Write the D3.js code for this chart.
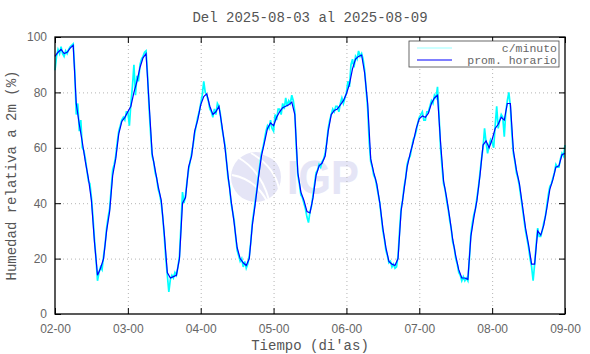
<!DOCTYPE html>
<html>
<head>
<meta charset="utf-8">
<script src="https://cdn.jsdelivr.net/npm/d3@7"></script>
<style>
    body { margin: 0; background: #fff; }
    svg { display: block; font-family: "Liberation Mono", "DejaVu Sans Mono", monospace; }
    .grid line { stroke: #b4b4b4; stroke-dasharray: 1,3; }
    .grid path { display: none; }
    .axis path { display: none; }
    .axis line { stroke: #000; }
    .axis text { fill: #666; font-size: 12px; }
</style>
</head>
<body>
<div id="chart"></div>
<script>
const titulo = "Del 2025-08-03 al 2025-08-09";
const etiquetaX = "Tiempo (di'as)";
const etiquetaY = "Humedad relativa a 2m (%)";
const seriesNombres = ["c/minuto", "prom. horario"];

// horas desde 02-00
const diaHoras = [0, 24, 48, 72, 96, 120, 144, 168];
const diaEtiquetas = ["02-00", "03-00", "04-00", "05-00", "06-00", "07-00", "08-00", "09-00"];
const humTicks = [0, 20, 40, 60, 80, 100];

// promedio horario (una por hora, 0..168)
const promHorario = [
    93, 94.5, 95.5, 94, 94.5, 96, 97, 76, 68.5, 62, 55, 49, 41, 26, 14, 16.5, 20, 30, 37, 50, 56, 65, 69.5, 71,
    73, 75, 80, 84, 89, 92.5, 94, 76, 58, 52, 46, 41, 29, 15, 13, 13.5, 14, 20, 40, 42, 53, 57, 66, 70,
    75.5, 78.5, 79.5, 75, 72, 73, 75, 68, 60, 50, 41, 33, 24, 20, 18.5, 17.5, 20, 32, 40, 49, 57, 62, 67, 69,
    68, 71, 73, 74.5, 75, 75.5, 76.5, 72, 51, 44, 41, 37, 36.5, 42, 50, 53.5, 54.5, 57, 66, 72, 73.5, 74, 75.5, 77,
    79.5, 83, 88.5, 92, 93, 93.5, 87, 76, 56, 51, 47, 40, 31, 24, 19, 18, 17.5, 20, 37, 45, 53, 58, 62, 67,
    70.5, 71.5, 71, 72.5, 76, 78, 79, 62, 48, 42, 35, 27, 21, 16, 13, 13, 12.5, 28, 35, 41, 50, 61, 62.5, 60,
    63, 67, 68.5, 71, 70, 76, 76, 59, 52, 47, 39, 31, 25, 18, 18, 30, 28.5, 32, 38, 45, 48.5, 53, 53.5, 57.5,
    58
];

// muestras c/minuto (cada media hora)
const minD02 = [88, 93, 95.5, 94, 96.5, 94, 93, 95, 94, 95.5, 96.5, 97, 97.5, 88, 72, 76, 66, 70, 60, 59, 56, 52, 48, 47,
    42, 35, 27, 20, 12, 15, 17, 16, 21, 25, 31, 35, 38, 45, 52, 54, 57, 62, 66, 68, 70, 71, 70, 73];
const minD03 = [73, 68, 76, 82, 90, 79, 86, 84, 90, 92, 93, 94.5, 95, 86, 74, 65, 57, 55, 51, 49, 45, 43, 40, 35,
    28, 20, 14, 8, 12.5, 14, 13, 15, 14, 17, 21, 32, 44, 40, 43, 48, 52, 55, 58, 61, 65, 68, 71, 73];
const minD04 = [76, 79, 84, 80, 79, 77, 74, 73, 71, 74, 72, 76, 75, 72, 67, 64, 61, 55, 49, 46, 40, 37, 34, 28,
    23, 21, 19, 20, 17, 19, 16.5, 18, 21, 26, 33, 37, 41, 45, 50, 54, 58, 60, 63, 66, 68, 67, 70, 67];
const minD05 = [66, 72, 70, 74, 74, 72, 76, 74, 78, 75, 77, 76, 79, 77, 73, 60, 50, 47, 43, 42, 40, 38, 35, 33,
    37, 39, 43, 47, 51, 52, 54, 53, 55, 56, 58, 62, 67, 70, 72, 74, 73, 75, 75, 73, 76, 78, 76, 78];
const minD06 = [80, 84, 82, 90, 92, 89, 93, 92, 95, 93, 94, 92, 88, 81, 74, 62, 55, 53, 50, 49, 46, 43, 40, 35,
    30, 27, 23, 21, 18.5, 19, 17, 18, 16.5, 17, 21, 30, 38, 41, 46, 49, 54, 56, 57, 60, 63, 64, 66, 69];
const minD07 = [71, 72, 73, 70, 70, 73, 73, 75, 77, 76, 79, 78, 82, 72, 60, 53, 47, 45, 41, 38, 34, 31, 26, 24,
    20, 18, 15, 14, 12, 13.5, 12, 13, 12, 20, 29, 33, 36, 38, 42, 46, 51, 56, 60, 67, 62, 58, 61, 63];
const minD08 = [62, 60, 68, 75, 67, 70, 72, 71, 64, 73, 77, 80, 75, 65, 58, 55, 51, 49, 46, 42, 38, 34, 30, 27,
    24, 20, 17, 12, 18, 25, 31, 28, 28, 30, 33, 35, 39, 43, 46, 47, 49, 51, 54, 53, 53, 56, 58, 57, 61];

const W = 590, H = 354;
const margin = { top: 37, right: 25, bottom: 40, left: 55 };
const width = W - margin.left - margin.right;
const height = H - margin.top - margin.bottom;

const svg = d3.select("#chart").append("svg")
    .attr("width", W)
    .attr("height", H);

const x = d3.scaleLinear().domain([0, 168]).range([0, width]);
const y = d3.scaleLinear().domain([0, 100]).range([height, 0]);

const g = svg.append("g")
    .attr("transform", "translate(" + margin.left + "," + margin.top + ")");

// marca de agua IGP
const wm = g.append("g").attr("opacity", 0.9);
wm.append("circle")
    .attr("cx", 201).attr("cy", 140).attr("r", 25)
    .attr("fill", "#e3e3f6");
wm.append("path")
    .attr("d", "M184,121 Q206,134 214,163 M196,116 Q220,130 224,152 M177,138 Q200,142 212,164 M205,116 Q222,120 226,132")
    .attr("fill", "none").attr("stroke", "#fff").attr("stroke-width", 2);
wm.append("text")
    .attr("x", 232).attr("y", 157)
    .attr("font-family", "Liberation Sans, Arial, sans-serif")
    .attr("font-weight", "bold")
    .attr("font-size", 48)
    .attr("textLength", 72)
    .attr("lengthAdjust", "spacingAndGlyphs")
    .attr("fill", "#e3e3f6")
    .text("IGP");

// rejilla
g.append("g")
    .attr("class", "grid")
    .attr("transform", "translate(0," + height + ")")
    .call(d3.axisBottom(x).tickValues(diaHoras.slice(1, -1)).tickSize(-height).tickFormat(""));
g.append("g")
    .attr("class", "grid")
    .call(d3.axisLeft(y).tickValues(humTicks.slice(1, -1)).tickSize(-width).tickFormat(""));

// series
const minuto = [].concat(minD02, minD03, minD04, minD05, minD06, minD07, minD08);
const lineaMin = d3.line()
    .x((d, i) => x(i * 0.5))
    .y(d => y(d));
const lineaHora = d3.line()
    .x((d, i) => x(i))
    .y(d => y(d));

g.append("path")
    .attr("d", lineaMin(minuto))
    .attr("fill", "none")
    .attr("stroke", "#00ffff")
    .attr("stroke-width", 1.7);

g.append("path")
    .attr("d", lineaHora(promHorario))
    .attr("fill", "none")
    .attr("stroke", "#0000ff")
    .attr("stroke-width", 1.2);

// ejes con marcas hacia dentro
g.append("g")
    .attr("class", "axis")
    .attr("transform", "translate(0," + height + ")")
    .call(d3.axisBottom(x).tickValues(diaHoras).tickSize(-6).tickPadding(10)
        .tickFormat((d, i) => diaEtiquetas[i]));
g.append("g")
    .attr("class", "axis")
    .call(d3.axisTop(x).tickValues(diaHoras).tickSize(-6).tickFormat(""));
g.append("g")
    .attr("class", "axis")
    .call(d3.axisLeft(y).tickValues(humTicks).tickSize(-6).tickPadding(8));
g.append("g")
    .attr("class", "axis")
    .attr("transform", "translate(" + width + ",0)")
    .call(d3.axisRight(y).tickValues(humTicks).tickSize(-6).tickFormat(""));

g.append("rect")
    .attr("width", width).attr("height", height)
    .attr("fill", "none").attr("stroke", "#000").attr("stroke-width", 1.3);

// leyenda
const leg = g.append("g").attr("transform", "translate(" + (width - 156) + ",4)");
leg.append("rect")
    .attr("x", 0).attr("y", 0).attr("width", 150).attr("height", 26)
    .attr("fill", "#fff").attr("stroke", "#444").attr("stroke-width", 0.8);
[["#7fffff", 7, 0.8], ["#0000ff", 19, 1.2]].forEach((c, i) => {
    leg.append("line")
        .attr("x1", 8).attr("x2", 43).attr("y1", c[1]).attr("y2", c[1])
        .attr("stroke", c[0]).attr("stroke-width", c[2]);
    leg.append("text")
        .attr("x", 148).attr("y", c[1] + 3.5)
        .attr("text-anchor", "end")
        .attr("font-size", 11.5)
        .attr("fill", "#666")
        .text(seriesNombres[i]);
});

// textos
svg.append("text")
    .attr("x", margin.left + width / 2).attr("y", 22)
    .attr("text-anchor", "middle")
    .attr("font-size", 14)
    .attr("fill", "#555")
    .text(titulo);

svg.append("text")
    .attr("x", margin.left + width / 2).attr("y", 350)
    .attr("text-anchor", "middle")
    .attr("font-size", 14)
    .attr("fill", "#555")
    .text(etiquetaX);

svg.append("text")
    .attr("transform", "translate(16," + (margin.top + height / 2) + ") rotate(-90)")
    .attr("text-anchor", "middle")
    .attr("font-size", 14)
    .attr("fill", "#555")
    .text(etiquetaY);
</script>
</body>
</html>
